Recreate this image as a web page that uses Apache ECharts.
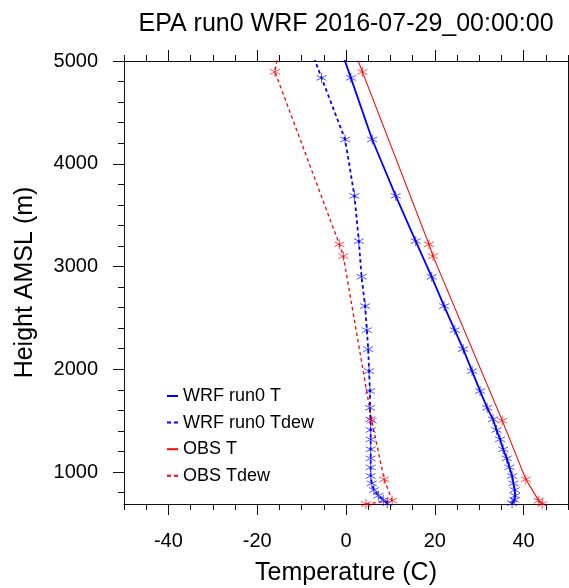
<!DOCTYPE html>
<html>
<head>
<meta charset="utf-8">
<script src="https://cdn.jsdelivr.net/npm/echarts@6/dist/echarts.min.js"></script>
<style>html,body{margin:0;padding:0;background:#fff}#c{width:569px;height:588px}</style>
</head>
<body>
<div id="c"></div>
<script>
// ---- data ----
const wrfHeight = [696, 728, 770, 825, 890, 961, 1046, 1133, 1221, 1318, 1409, 1513, 1625, 1788, 1982, 2196, 2381, 2615, 2900, 3247, 3688, 4236, 4836, 5450];
const wrfT      = [37.4, 37.9, 38.1, 38.0, 37.7, 37.4, 36.8, 36.2, 35.4, 34.7, 33.9, 33.1, 31.8, 30.2, 28.4, 26.4, 24.5, 22.1, 19.3, 15.7, 11.2, 5.9, 1.1, -3.9];
const wrfTdew   = [9.3, 8.4, 7.3, 6.3, 5.8, 5.55, 5.55, 5.55, 5.55, 5.55, 5.55, 5.5, 5.4, 5.4, 5.2, 5.0, 4.7, 4.3, 3.5, 2.9, 1.9, -0.2, -5.5, -10.9];
const obsHeight = [689, 722, 929, 1500, 3101, 3216, 4894, 5500];
const obsT      = [44.2, 43.4, 40.5, 35.2, 19.6, 18.7, 3.7, -1.7];
const obsTdew   = [4.5, 10.4, 8.6, 5.8, -0.6, -1.5, -16.0, -13.7];
const xMajorTicks = [-40, -20, 0, 20, 40];
const yMajorTicks = [1000, 2000, 3000, 4000, 5000];
const yMinorTicks = [800, 1000, 1200, 1400, 1600, 1800, 2000, 2200, 2400, 2600, 2800, 3000, 3200, 3400, 3600, 3800, 4000, 4200, 4400, 4600, 4800, 5000];
const seriesNames = ['WRF run0 T', 'WRF run0 Tdew', 'OBS T', 'OBS Tdew'];
const titleText = 'EPA run0 WRF 2016-07-29_00:00:00';

const FONT = 'Liberation Sans, Arial, Helvetica, sans-serif';
const AX = '#111';
const star = 'path://M5 0L5 10M0.67 2.5L9.33 7.5M0.67 7.5L9.33 2.5';
const dashIcon = 'path://M0 0H4V2H0Z M7 0H11V2H7Z';
const plain = v => String(v);

function pairs(xs, ys) { return xs.map((v, i) => [v, ys[i]]); }

const X_MIN = -50, X_MAX = 50, Y_MIN = 689, Y_MAX = 5000;

function xAx(pos, major, labels) {
  const a = {
    type: 'value', position: pos, min: X_MIN, max: X_MAX,
    splitLine: { show: false },
    axisLine: { show: major, onZero: false, lineStyle: { color: AX, width: 1 } },
    axisTick: { show: true, inside: false, length: major ? 11 : 6, lineStyle: { color: AX, width: 1 } },
    axisLabel: { show: false }
  };
  if (major) {
    a.axisTick.customValues = xMajorTicks;
    a.axisLabel = { show: labels, customValues: xMajorTicks, formatter: plain, fontSize: 20, fontFamily: FONT, color: '#000', margin: 27 };
  } else {
    a.interval = 5;
  }
  if (labels) {
    a.name = 'Temperature (C)';
    a.nameLocation = 'middle';
    a.nameGap = 57;
    a.nameMoveOverlap = false;
    a.nameTextStyle = { fontSize: 25, fontFamily: FONT, color: '#000' };
  }
  return a;
}
function yAx(pos, major, labels) {
  const a = {
    type: 'value', position: pos, min: Y_MIN, max: Y_MAX,
    splitLine: { show: false },
    axisLine: { show: major, onZero: false, lineStyle: { color: AX, width: 1 } },
    axisTick: { show: true, inside: false, length: major ? 11 : 6, lineStyle: { color: AX, width: 1 },
                customValues: major ? yMajorTicks : yMinorTicks },
    axisLabel: { show: false }
  };
  if (labels) {
    a.axisLabel = { show: true, customValues: yMajorTicks, formatter: plain, fontSize: 20, fontFamily: FONT, color: '#000', margin: 26 };
    a.name = 'Height AMSL (m)';
    a.nameLocation = 'middle';
    a.nameGap = 86;
    a.nameMoveOverlap = false;
    a.nameTextStyle = { fontSize: 25, fontFamily: FONT, color: '#000' };
  }
  return a;
}

function lineSeries(name, color, width, dashed, xs, ys) {
  return {
    name: name, type: 'line', xAxisIndex: 0, yAxisIndex: 0,
    data: pairs(xs, ys),
    symbol: star, symbolSize: 10, showSymbol: true, clip: true,
    itemStyle: { color: color, borderColor: color, borderWidth: 0.9, opacity: 0.75 },
    lineStyle: { color: color, width: width, type: dashed ? [3.5, 3] : 'solid' },
    emphasis: { disabled: true },
    animation: false, z: 3
  };
}

const chart = echarts.init(document.getElementById('c'), null, { renderer: 'canvas' });
chart.setOption({
  backgroundColor: '#fff',
  animation: false,
  title: {
    text: titleText, left: 346, top: 12, padding: 0, textAlign: 'center',
    textStyle: { fontSize: 25, fontWeight: 'normal', fontFamily: FONT, color: '#000' }
  },
  grid: { left: 124, right: 1, top: 61, bottom: 84, containLabel: false, outerBoundsMode: 'none' },
  legend: {
    orient: 'vertical', left: 167, top: 387, padding: 0,
    itemWidth: 11, itemHeight: 2, itemGap: 8.6,
    itemStyle: { borderWidth: 0 },
    textStyle: { fontSize: 18, fontFamily: FONT, color: '#000', lineHeight: 17 },
    selectedMode: false,
    data: [
      { name: seriesNames[0], icon: 'rect', itemStyle: { color: '#0000ff', borderWidth: 0, opacity: 1 } },
      { name: seriesNames[1], icon: dashIcon, itemStyle: { color: '#0000ff', borderWidth: 0, opacity: 1 } },
      { name: seriesNames[2], icon: 'rect', itemStyle: { color: '#ff0000', borderWidth: 0, opacity: 1 } },
      { name: seriesNames[3], icon: dashIcon, itemStyle: { color: '#ff0000', borderWidth: 0, opacity: 1 } }
    ]
  },
  xAxis: [xAx('bottom', true, true), xAx('bottom', false, false), xAx('top', true, false), xAx('top', false, false)],
  yAxis: [yAx('left', true, true), yAx('left', false, false), yAx('right', true, false), yAx('right', false, false)],
  series: [
    lineSeries(seriesNames[0], '#0000ff', 1.8, false, wrfT, wrfHeight),
    lineSeries(seriesNames[1], '#0000ff', 1.8, true, wrfTdew, wrfHeight),
    lineSeries(seriesNames[2], '#ff0000', 1.1, false, obsT, obsHeight),
    lineSeries(seriesNames[3], '#ff0000', 1.3, true, obsTdew, obsHeight)
  ]
});
</script>
</body>
</html>
